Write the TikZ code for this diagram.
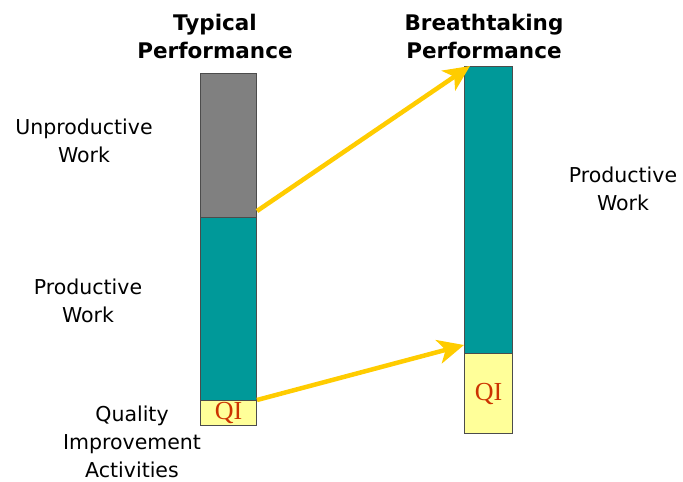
\documentclass[tikz,border=0pt]{standalone}
\usepackage{fontspec}
\setmainfont{DejaVu Sans}
\newfontfamily\qifont{Liberation Serif}
\usepackage{xcolor}
\usetikzlibrary{arrows.meta,calc,positioning}
\definecolor{barGray}{RGB}{128,128,128}
\definecolor{barTeal}{RGB}{0,153,153}
\definecolor{barYellow}{RGB}{255,255,153}
\definecolor{qiRed}{RGB}{204,51,0}
\definecolor{arrGold}{RGB}{255,204,0}
\tikzset{
  seg/.style={draw=black!70, line width=1pt, inner sep=0pt, anchor=north west},
  lbl/.style={align=center, font=\fontsize{20.5}{28}\selectfont},
  ttl/.style={align=center, font=\fontsize{21.5}{28}\selectfont\bfseries},
  qi/.style={text=qiRed, font=\qifont\fontsize{26}{26}\selectfont},
  gold/.style={draw=arrGold, line width=4.5pt, -{Stealth[length=26pt,width=24pt,inset=7pt]}}
}
\begin{document}
\begin{tikzpicture}[x=1pt,y=-1pt]
\useasboundingbox (0,0) rectangle (683,482);
% titles
\node[ttl] (tTitle) at (215,36) {Typical\\Performance};
\node[ttl] (bTitle) at (484,36) {Breathtaking\\Performance};
% typical bar
\node[seg, fill=barGray, minimum width=56pt, minimum height=144pt] (tGray) at (200,73) {};
\node[seg, fill=barTeal, minimum width=56pt, minimum height=183pt] (tTeal) at (200,217) {};
\node[seg, fill=barYellow, minimum width=56pt, minimum height=25pt] (tYellow) at (200,400) {};
\node[qi] (tQI) at (tYellow.center) {QI};
% breathtaking bar
\node[seg, fill=barTeal, minimum width=48pt, minimum height=287pt] (bTeal) at (464,66) {};
\node[seg, fill=barYellow, minimum width=48pt, minimum height=80pt] (bYellow) at (464,353) {};
\node[qi] (bQI) at (bYellow.center) {QI};
% labels
\node[lbl] (unprod) at (84,141) {Unproductive\\Work};
\node[lbl] (prodL) at (88,301) {Productive\\Work};
\node[lbl] (qual) at (132,442) {Quality\\Improvement\\Activities};
\node[lbl] (prodR) at (623,189) {Productive\\Work};
% arrows
\coordinate (s1) at ($(tGray.south east)+(0,-7)$);
\coordinate (e1) at ($(bTeal.north west)+(6,0)$);
\coordinate (s2) at ($(tYellow.north east)+(0,0)$);
\coordinate (e2) at ($(bYellow.north west)+(0,-8)$);
\draw[gold] (s1) -- (e1);
\draw[gold] (s2) -- (e2);
\end{tikzpicture}
\end{document}
